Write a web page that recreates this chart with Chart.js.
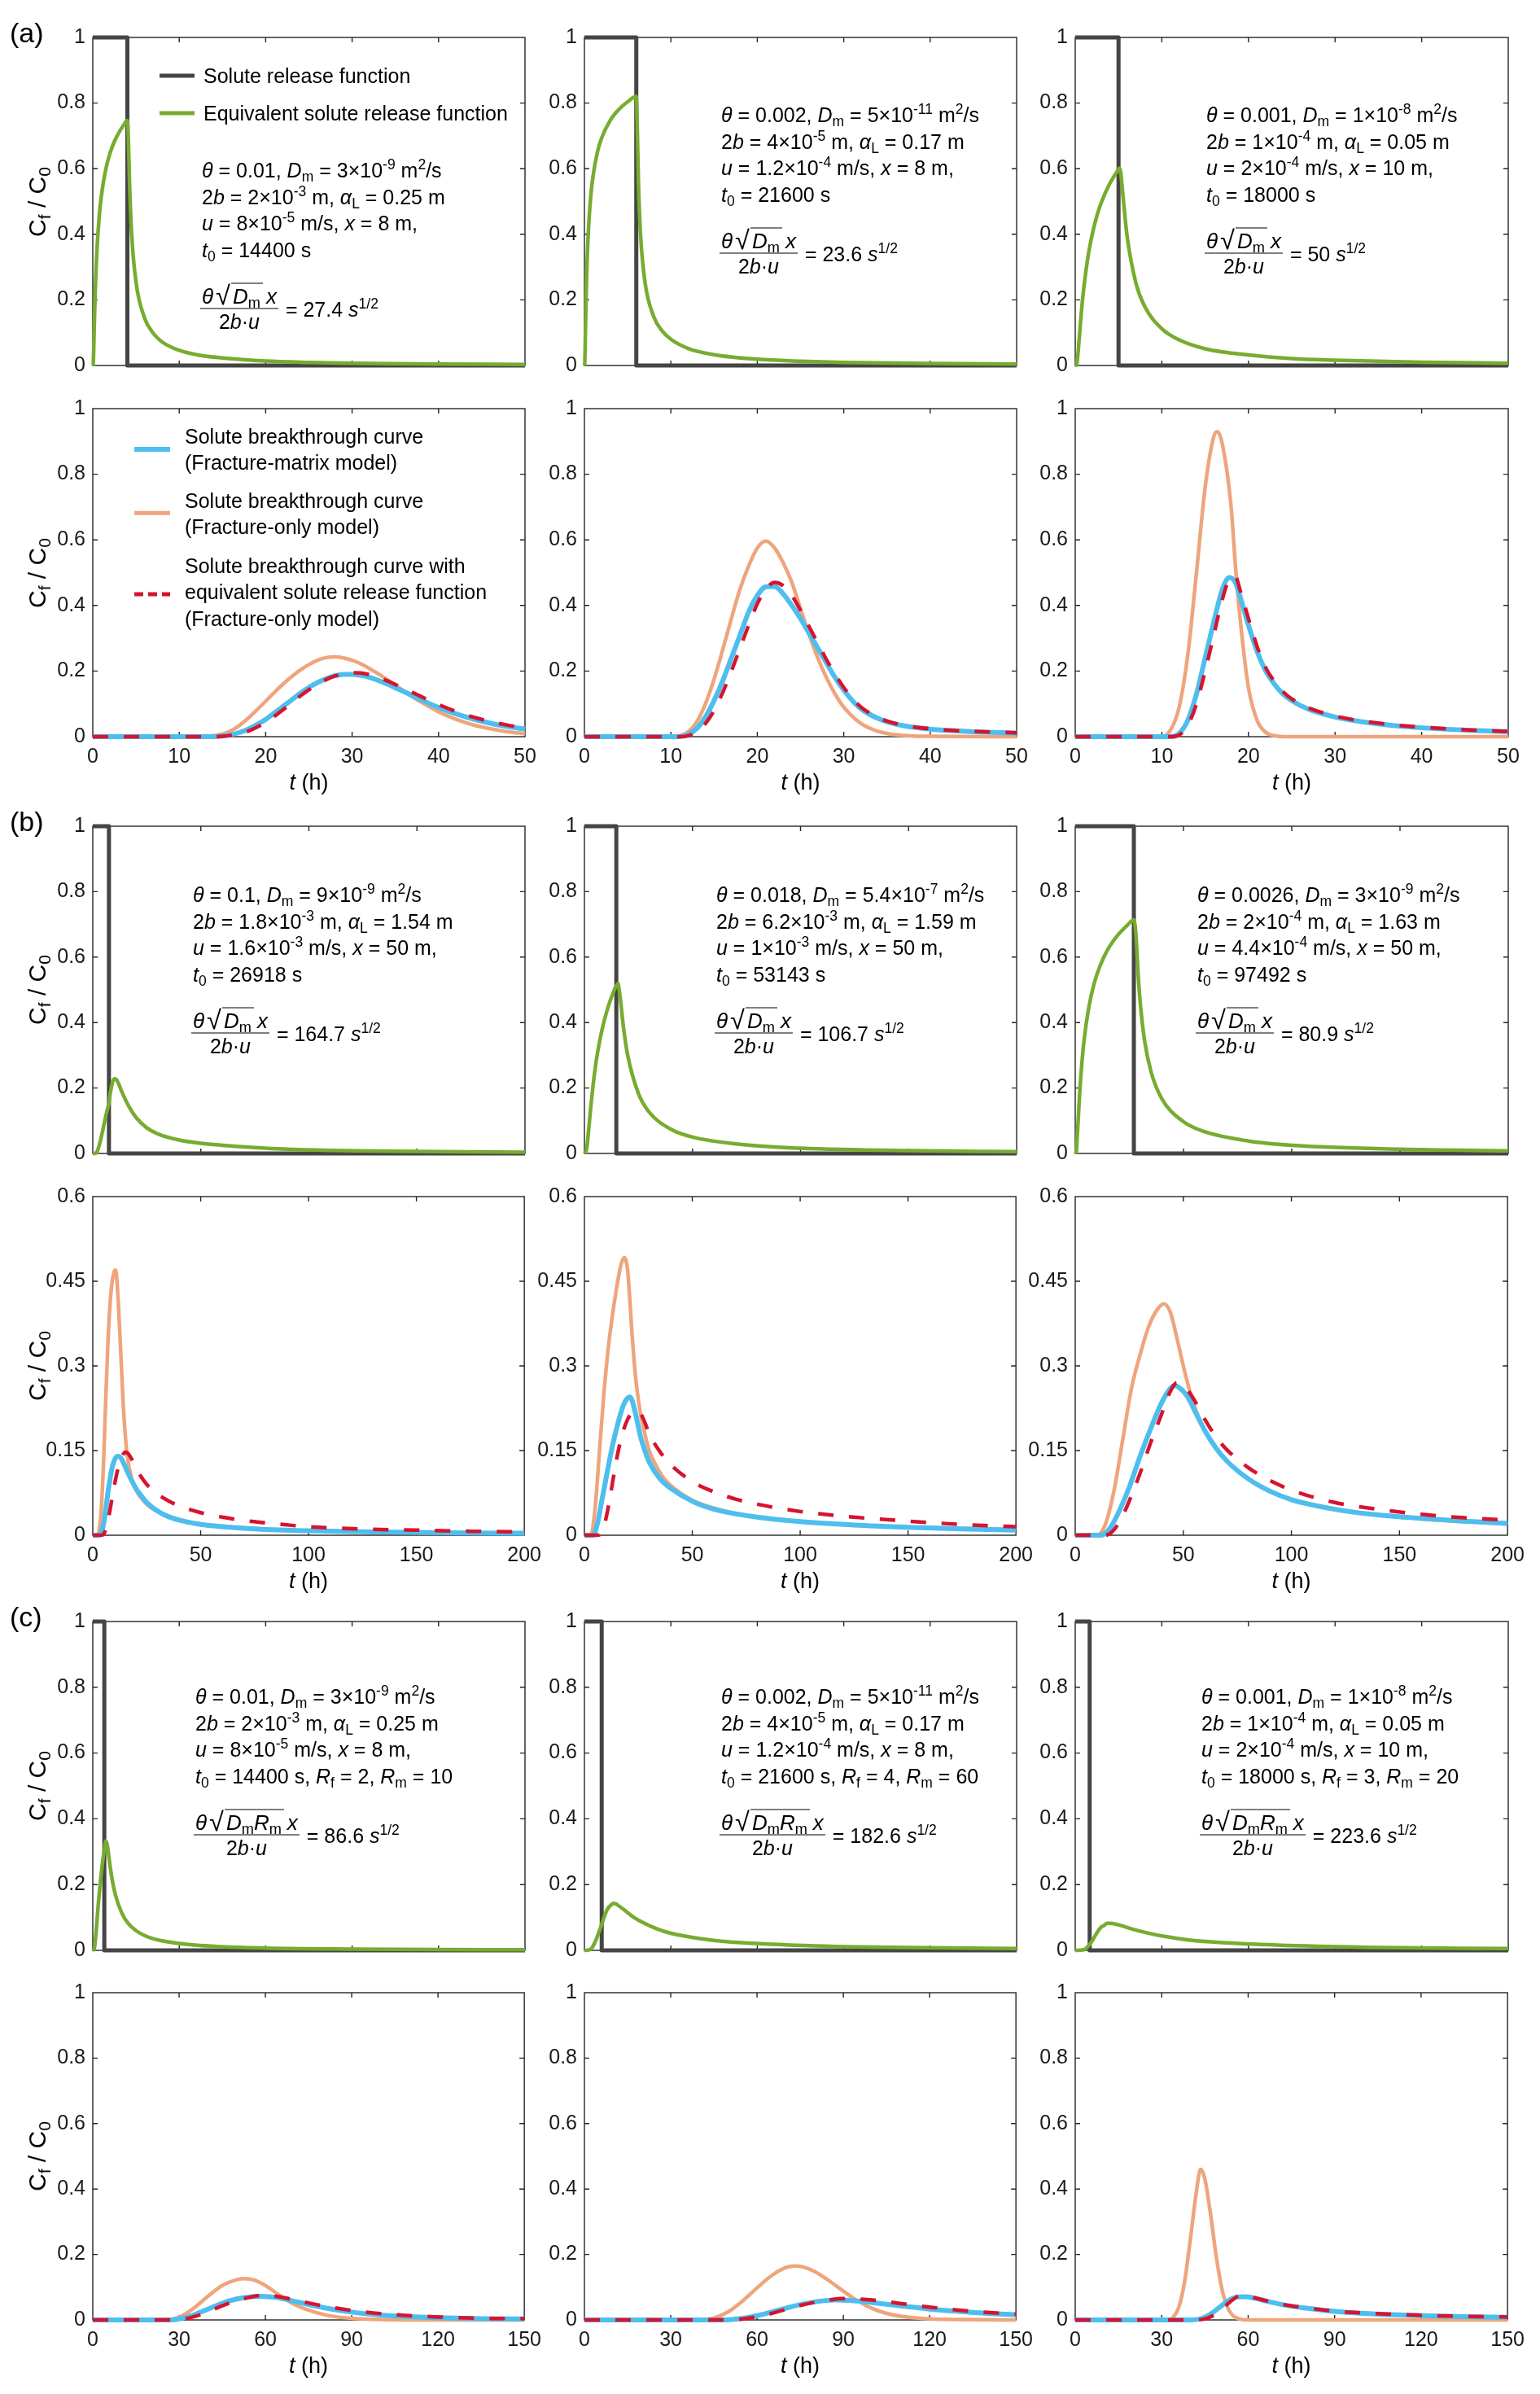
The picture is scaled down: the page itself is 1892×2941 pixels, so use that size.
<!DOCTYPE html>
<html><head><meta charset="utf-8">
<script src="https://cdn.jsdelivr.net/npm/chart.js@4.4.1/dist/chart.umd.min.js"></script>
<style>
html,body{margin:0;padding:0;background:#fff}
body{width:1892px;height:2941px;position:relative;overflow:hidden}
canvas{position:absolute}
.t{position:absolute;white-space:nowrap;font-family:'Liberation Sans',Arial,sans-serif;font-size:25px;color:#000;line-height:30px;transform:translateY(-50%)}
.t sub,.t sup{font-size:70%;line-height:0;position:relative;vertical-align:baseline}
.t sub{top:0.3em}
.t sup{top:-0.55em}
.fw{display:flex;align-items:center}
.fr{display:inline-flex;flex-direction:column;align-items:center;margin-right:9px}
.num{line-height:30px;height:30px;padding:0 2px;font-size:26px;white-space:nowrap}
.num .sq{font-size:1.25em;line-height:0;margin:0 1px 0 3px;position:relative;top:1px}
.num .xx{margin-left:4px}
.den{line-height:30px;height:30px;border-top:1.5px solid #000;align-self:stretch;text-align:center}
.ov{border-top:1.5px solid #000;padding:0 3px 0 2px}
.ln{position:absolute;transform:translateY(-50%)}
.ttl{position:absolute;white-space:nowrap;font-family:'Liberation Sans',Arial,sans-serif;font-size:27px;color:#000;line-height:34px}
.ttl sub{font-size:70%;line-height:0;position:relative;vertical-align:baseline;top:0.3em}
</style>
</head><body>
<script>
// ---------------- tick values / labels ----------------
const xTicks50 = [0,10,20,30,40,50];
const xTicks200 = [0,50,100,150,200];
const xTicks150 = [0,30,60,90,120,150];
const yTicks1 = [0,0.2,0.4,0.6,0.8,1];
const yLabels1 = ['0','0.2','0.4','0.6','0.8','1'];
const yTicks06 = [0,0.15,0.3,0.45,0.6];
const yLabels06 = ['0','0.15','0.3','0.45','0.6'];

// ---------------- (a) release functions ----------------
const relT_a1 = [0,4,4,50];        const rel_a1 = [1,1,0,0];
const relT_a2 = [0,6,6,50];        const rel_a2 = [1,1,0,0];
const relT_a3 = [0,5,5,50];        const rel_a3 = [1,1,0,0];
const eqT_a1 = [0,0.05,0.1,0.2,0.3,0.5,0.75,1,1.5,2,2.5,3,3.5,4,4.1,4.25,4.5,5,6,7,8,10,12,15,20,25,30,40,50];
const eq_a1  = [0,0.004,0.041,0.148,0.238,0.361,0.456,0.519,0.598,0.648,0.683,0.709,0.730,0.747,0.709,0.557,0.400,0.254,0.144,0.098,0.072,0.046,0.033,0.023,0.0135,0.0094,0.0069,0.0044,0.0030];
const eqT_a2 = [0,0.05,0.1,0.2,0.3,0.5,0.75,1,1.5,2,3,4,5,6,6.1,6.25,6.5,7,8,9,10,12,15,20,25,30,40,50];
const eq_a2  = [0,0.013,0.079,0.214,0.310,0.431,0.521,0.578,0.650,0.694,0.748,0.781,0.804,0.820,0.743,0.557,0.396,0.255,0.150,0.105,0.080,0.052,0.033,0.019,0.013,0.0095,0.006,0.0042];
const eqT_a3 = [0,0.1,0.2,0.3,0.5,0.75,1,1.5,2,2.5,3,4,5,5.1,5.25,5.5,6,7,8,10,12,15,20,25,30,40,50];
const eq_a3  = [0,0.0002,0.008,0.031,0.095,0.175,0.239,0.336,0.404,0.456,0.496,0.555,0.598,0.602,0.589,0.521,0.392,0.252,0.181,0.112,0.078,0.051,0.032,0.021,0.016,0.010,0.007];

// ---------------- (a) breakthrough curves ----------------
const orangeT_a1 = [0,12,14,15,16,17,18,19,20,21,22,23,24,25,26,27,28,29,30,31,32,33,34,35,36,38,40,42,44,46,48,50];
const orange_a1  = [0,0,0.003,0.008,0.018,0.035,0.057,0.082,0.108,0.135,0.16,0.183,0.203,0.22,0.233,0.241,0.243,0.240,0.233,0.222,0.208,0.192,0.175,0.157,0.139,0.105,0.076,0.053,0.036,0.024,0.015,0.009];
const btcT_a1    = [0,14,15,16,17,18,19,20,21,22,23,24,25,26,27,28,29,30,31,32,33,34,35,36,38,40,42,44,46,48,50];
const blue_a1    = [0,0,0.002,0.006,0.013,0.023,0.037,0.053,0.072,0.092,0.112,0.132,0.15,0.165,0.177,0.186,0.19,0.19,0.187,0.181,0.172,0.161,0.149,0.137,0.112,0.089,0.07,0.054,0.041,0.031,0.023];
const red_a1     = [0,0,0.001,0.004,0.009,0.017,0.029,0.044,0.062,0.082,0.103,0.124,0.143,0.16,0.174,0.185,0.192,0.195,0.194,0.189,0.181,0.171,0.159,0.147,0.122,0.098,0.077,0.06,0.046,0.035,0.026];

const orangeT_a2 = [0,10,11,12,13,14,15,16,17,18,19,20,21,22,23,24,25,26,27,28,29,30,31,32,33,34,35,36,38,40,50];
const orange_a2  = [0,0,0.003,0.015,0.045,0.1,0.175,0.265,0.36,0.45,0.52,0.575,0.596,0.575,0.53,0.47,0.39,0.31,0.24,0.18,0.13,0.09,0.062,0.04,0.026,0.016,0.01,0.006,0.002,0.001,0];
const btcT_a2    = [0,11,12,13,14,15,16,17,18,19,20,21,22,23,24,25,26,27,28,29,30,31,32,34,36,38,40,42,45,50];
const blue_a2    = [0,0,0.006,0.025,0.06,0.11,0.17,0.24,0.31,0.38,0.43,0.457,0.458,0.435,0.4,0.36,0.315,0.27,0.225,0.18,0.142,0.11,0.085,0.055,0.038,0.029,0.023,0.019,0.015,0.011];
const red_a2     = [0,0,0.003,0.015,0.04,0.08,0.135,0.2,0.27,0.34,0.405,0.45,0.47,0.46,0.43,0.385,0.335,0.285,0.235,0.19,0.15,0.117,0.09,0.058,0.04,0.03,0.024,0.02,0.016,0.012];

const orangeT_a3 = [0,10,11,12,13,14,15,16,16.4,17,18,18.5,19,20,21,22,23,24,50];
const orange_a3  = [0,0,0.02,0.09,0.25,0.5,0.76,0.915,0.93,0.89,0.7,0.52,0.37,0.15,0.05,0.013,0.003,0,0];
const btcT_a3    = [0,11,12,13,14,15,16,17,17.8,18.5,19,20,21,22,23,24,25,27,30,33,36,40,45,50];
const blue_a3    = [0,0,0.01,0.05,0.13,0.24,0.35,0.45,0.485,0.47,0.43,0.34,0.26,0.2,0.16,0.13,0.11,0.083,0.06,0.046,0.036,0.027,0.02,0.015];
const red_a3     = [0,0,0.005,0.035,0.1,0.2,0.31,0.42,0.48,0.488,0.45,0.36,0.275,0.21,0.168,0.137,0.115,0.087,0.063,0.048,0.038,0.029,0.021,0.016];

// ---------------- (b) release functions ----------------
const relT_b1 = [0,7.48,7.48,200];   const rel_b1 = [1,1,0,0];
const relT_b2 = [0,14.76,14.76,200]; const rel_b2 = [1,1,0,0];
const relT_b3 = [0,27.08,27.08,200]; const rel_b3 = [1,1,0,0];
const eqT_b1 = [0,1,2,3,4,5,6,7,7.5,8,9,10,11,12,14,17,20,25,30,40,50,60,75,90,110,130,160,200];
const eq_b1  = [0,0.0001,0.006,0.025,0.052,0.083,0.114,0.141,0.156,0.18,0.215,0.228,0.225,0.212,0.18,0.14,0.11,0.078,0.06,0.041,0.031,0.025,0.018,0.013,0.0095,0.0075,0.0055,0.004];
const eqT_b2 = [0,1,2,3,4,5,6,8,10,12,14.76,15.5,16,17,18,20,25,30,40,50,75,100,150,200];
const eq_b2  = [0,0.012,0.076,0.146,0.208,0.261,0.305,0.374,0.426,0.468,0.513,0.519,0.505,0.450,0.389,0.301,0.183,0.126,0.074,0.050,0.026,0.016,0.0084,0.0056];
const eqT_b3 = [0,0.5,1,2,3,4,6,8,10,13,16,20,24,27.08,28,29,30,32,35,40,50,60,80,100,150,200];
const eq_b3  = [0,0.007,0.058,0.179,0.271,0.341,0.436,0.500,0.547,0.597,0.634,0.670,0.697,0.714,0.672,0.554,0.462,0.346,0.250,0.167,0.097,0.066,0.038,0.025,0.013,0.008];

// ---------------- (b) breakthrough curves ----------------
const orangeT_b1 = [0,2,3,4,5,6,7,8,9,10,10.5,11,12,13,14,15,16,18,20,25,30,40,50,60,80,100,125,150,175,200];
const orange_b1  = [0,0,0.01,0.05,0.13,0.24,0.34,0.41,0.45,0.468,0.47,0.46,0.4,0.32,0.24,0.18,0.14,0.1,0.08,0.055,0.042,0.028,0.02,0.016,0.011,0.008,0.006,0.0045,0.0035,0.003];
const blueT_b1   = [0,3,4,5,6,7,8,9,10,11,12,13,14,16,18,20,22,25,30,35,40,50,60,80,100,125,150,175,200];
const blue_b1    = [0,0,0.005,0.02,0.045,0.075,0.1,0.12,0.133,0.139,0.14,0.137,0.13,0.113,0.097,0.083,0.072,0.058,0.043,0.033,0.027,0.019,0.015,0.01,0.008,0.006,0.005,0.004,0.0035];
const redT_b1    = [0,4,5,6,7,8,9,10,11,12,13,14,15,16,18,20,22,25,30,35,40,50,60,70,80,100,125,150,175,200];
const red_b1     = [0,0,0.002,0.01,0.025,0.045,0.067,0.088,0.107,0.123,0.135,0.143,0.147,0.146,0.135,0.12,0.106,0.09,0.073,0.061,0.052,0.04,0.032,0.026,0.022,0.015,0.011,0.009,0.007,0.006];

const orangeT_b2 = [0,3,5,7,9,11,13,15,17,18.5,20,21,22,23,24,26,28,30,33,36,40,50,60,75,100,125,150,175,200];
const orange_b2  = [0,0,0.05,0.15,0.25,0.33,0.39,0.44,0.48,0.492,0.47,0.42,0.36,0.31,0.27,0.215,0.18,0.15,0.125,0.105,0.088,0.062,0.048,0.035,0.024,0.018,0.014,0.012,0.01];
const blueT_b2   = [0,4,6,8,10,12,14,16,18,20,21,22,24,26,28,30,35,40,50,60,70,80,100,125,150,175,200];
const blue_b2    = [0,0,0.02,0.06,0.1,0.14,0.175,0.205,0.23,0.243,0.245,0.24,0.21,0.175,0.15,0.13,0.1,0.083,0.06,0.046,0.038,0.032,0.024,0.018,0.014,0.011,0.009];
const redT_b2    = [0,6,8,10,12,14,16,18,20,22,24,25,26,28,30,35,40,50,60,70,80,100,125,150,175,200];
const red_b2     = [0,0,0.005,0.03,0.07,0.115,0.155,0.185,0.205,0.217,0.221,0.22,0.216,0.2,0.18,0.148,0.125,0.095,0.077,0.064,0.055,0.042,0.032,0.025,0.019,0.015];

const orangeT_b3 = [0,10,14,18,22,26,30,34,38,41,44,47,50,53,56,60,65,70,80,90,100,120,140,160,180,200];
const orange_b3  = [0,0,0.02,0.08,0.17,0.26,0.32,0.37,0.4,0.41,0.395,0.35,0.3,0.255,0.22,0.185,0.155,0.132,0.1,0.079,0.064,0.047,0.036,0.029,0.024,0.02];
const blueT_b3   = [0,12,16,20,25,30,35,40,44,46,48,52,56,60,65,70,80,90,100,120,140,160,180,200];
const blue_b3    = [0,0,0.012,0.04,0.085,0.14,0.19,0.235,0.26,0.265,0.262,0.245,0.215,0.185,0.155,0.132,0.1,0.078,0.063,0.046,0.036,0.03,0.025,0.021];
const redT_b3    = [0,14,18,22,26,30,35,40,44,47,50,55,60,65,70,80,90,100,120,140,160,180,200];
const red_b3     = [0,0,0.01,0.035,0.07,0.11,0.165,0.215,0.255,0.27,0.266,0.24,0.205,0.175,0.152,0.12,0.097,0.08,0.058,0.046,0.037,0.031,0.027];

// ---------------- (c) release functions ----------------
const relT_c1 = [0,4,4,150]; const rel_c1 = [1,1,0,0];
const relT_c2 = [0,6,6,150]; const rel_c2 = [1,1,0,0];
const relT_c3 = [0,5,5,150]; const rel_c3 = [1,1,0,0];
const eqT_c1 = [0,0.5,1,2,3,4,4.5,5,6,7,8,10,12,15,20,30,45,60,90,120,150];
const eq_c1  = [0,0.004,0.041,0.149,0.239,0.307,0.332,0.321,0.256,0.202,0.164,0.115,0.085,0.060,0.038,0.021,0.011,0.007,0.004,0.0024,0.0019];
const eqT_c2 = [0,2,3,4,5,6,7,8,9,10,11,12,14,17,20,25,30,40,50,70,100,150];
const eq_c2  = [0,0.002,0.013,0.031,0.055,0.079,0.105,0.126,0.136,0.143,0.141,0.135,0.122,0.101,0.086,0.066,0.052,0.036,0.026,0.017,0.010,0.0055];
const eqT_c3 = [0,3,4,5,6,7,8,9,10,11,12,14,16,20,25,30,40,50,70,100,150];
const eq_c3  = [0,0.002,0.008,0.018,0.031,0.046,0.060,0.071,0.076,0.082,0.082,0.080,0.075,0.064,0.053,0.044,0.031,0.024,0.016,0.0095,0.0053];

// ---------------- (c) breakthrough curves ----------------
const orangeT_c1 = [0,25,30,35,40,45,50,53,56,60,65,70,75,80,85,90,100,110,150];
const orange_c1  = [0,0,0.008,0.035,0.072,0.105,0.123,0.126,0.122,0.105,0.075,0.048,0.03,0.017,0.009,0.005,0.001,0,0];
const blueT_c1   = [0,27,30,35,40,45,50,55,58,62,66,70,75,80,90,100,110,120,135,150];
const blue_c1    = [0,0,0.003,0.015,0.033,0.051,0.064,0.071,0.072,0.07,0.065,0.057,0.047,0.038,0.024,0.015,0.01,0.007,0.004,0.003];
const redT_c1    = [0,28,32,36,40,45,50,55,59,63,67,70,75,80,90,100,110,120,135,150];
const red_c1     = [0,0,0.003,0.012,0.025,0.043,0.059,0.07,0.075,0.073,0.067,0.061,0.052,0.043,0.029,0.019,0.013,0.009,0.005,0.004];

const orangeT_c2 = [0,40,45,50,55,60,65,70,73,76,80,85,90,95,100,105,110,115,120,130,150];
const orange_c2  = [0,0,0.006,0.025,0.058,0.098,0.135,0.16,0.165,0.162,0.148,0.12,0.088,0.058,0.035,0.02,0.011,0.006,0.003,0.001,0];
const blueT_c2   = [0,48,55,60,65,70,75,80,85,88,92,96,100,110,120,130,140,150];
const blue_c2    = [0,0,0.005,0.013,0.024,0.036,0.047,0.055,0.06,0.061,0.06,0.057,0.053,0.043,0.033,0.026,0.02,0.016];
const redT_c2    = [0,50,56,62,68,74,80,85,90,95,100,110,120,130,140,150];
const red_c2     = [0,0,0.004,0.013,0.027,0.042,0.054,0.061,0.065,0.064,0.061,0.05,0.039,0.03,0.023,0.018];

const orangeT_c3 = [0,32,34,36,38,40,42,43.5,45,47,49,51,53,55,57,60,150];
const orange_c3  = [0,0,0.008,0.04,0.12,0.25,0.39,0.46,0.43,0.32,0.19,0.09,0.035,0.011,0.003,0,0];
const blueT_c3   = [0,40,44,47,50,53,56,59,62,66,70,75,80,90,100,110,120,135,150];
const blue_c3    = [0,0,0.005,0.018,0.038,0.058,0.07,0.071,0.067,0.058,0.05,0.042,0.036,0.026,0.02,0.016,0.013,0.01,0.008];
const redT_c3    = [0,42,46,49,52,55,57,60,63,67,71,75,80,90,100,110,120,135,150];
const red_c3     = [0,0,0.006,0.02,0.042,0.064,0.074,0.072,0.066,0.057,0.049,0.043,0.037,0.027,0.021,0.017,0.014,0.011,0.009];

// ---------------- annotation texts ----------------
const paramsA = [
 ['$θ$ = 0.01, $D$_{m} = 3×10^{-9} m^{2}/s','2$b$ = 2×10^{-3} m, $α$_{L} = 0.25 m','$u$ = 8×10^{-5} m/s, $x$ = 8 m,','$t$_{0} = 14400 s'],
 ['$θ$ = 0.002, $D$_{m} = 5×10^{-11} m^{2}/s','2$b$ = 4×10^{-5} m, $α$_{L} = 0.17 m','$u$ = 1.2×10^{-4} m/s, $x$ = 8 m,','$t$_{0} = 21600 s'],
 ['$θ$ = 0.001, $D$_{m} = 1×10^{-8} m^{2}/s','2$b$ = 1×10^{-4} m, $α$_{L} = 0.05 m','$u$ = 2×10^{-4} m/s, $x$ = 10 m,','$t$_{0} = 18000 s']
];
const paramsB = [
 ['$θ$ = 0.1, $D$_{m} = 9×10^{-9} m^{2}/s','2$b$ = 1.8×10^{-3} m, $α$_{L} = 1.54 m','$u$ = 1.6×10^{-3} m/s, $x$ = 50 m,','$t$_{0} = 26918 s'],
 ['$θ$ = 0.018, $D$_{m} = 5.4×10^{-7} m^{2}/s','2$b$ = 6.2×10^{-3} m, $α$_{L} = 1.59 m','$u$ = 1×10^{-3} m/s, $x$ = 50 m,','$t$_{0} = 53143 s'],
 ['$θ$ = 0.0026, $D$_{m} = 3×10^{-9} m^{2}/s','2$b$ = 2×10^{-4} m, $α$_{L} = 1.63 m','$u$ = 4.4×10^{-4} m/s, $x$ = 50 m,','$t$_{0} = 97492 s']
];
const paramsC = [
 ['$θ$ = 0.01, $D$_{m} = 3×10^{-9} m^{2}/s','2$b$ = 2×10^{-3} m, $α$_{L} = 0.25 m','$u$ = 8×10^{-5} m/s, $x$ = 8 m,','$t$_{0} = 14400 s, $R$_{f} = 2, $R$_{m} = 10'],
 ['$θ$ = 0.002, $D$_{m} = 5×10^{-11} m^{2}/s','2$b$ = 4×10^{-5} m, $α$_{L} = 0.17 m','$u$ = 1.2×10^{-4} m/s, $x$ = 8 m,','$t$_{0} = 21600 s, $R$_{f} = 4, $R$_{m} = 60'],
 ['$θ$ = 0.001, $D$_{m} = 1×10^{-8} m^{2}/s','2$b$ = 1×10^{-4} m, $α$_{L} = 0.05 m','$u$ = 2×10^{-4} m/s, $x$ = 10 m,','$t$_{0} = 18000 s, $R$_{f} = 3, $R$_{m} = 20']
];
const groupValuesA = ['27.4','23.6','50'];
const groupValuesB = ['164.7','106.7','80.9'];
const groupValuesC = ['86.6','182.6','223.6'];
const legendTop = ['Solute release function','Equivalent solute release function'];
const legendBottom = [['Solute breakthrough curve','(Fracture-matrix model)'],['Solute breakthrough curve','(Fracture-only model)'],['Solute breakthrough curve with','equivalent solute release function','(Fracture-only model)']];
const panelLetters = ['(a)','(b)','(c)'];

// ---------------- styling / layout ----------------
const FONT = "'Liberation Sans', Arial, sans-serif";
const C = {black:'#454545', green:'#77AC30', blue:'#4DBEEE', orange:'#EEA57C', red:'#D6142F', axis:'#262626'};
const COLS = [[114,645],[718,1249],[1321,1853]];
const ROWS = [[42,449],[498,905],[1011,1417],[1466,1886],[1988,2396],[2444,2850]];
const PADL = 100, PADT = 20, PADR = 30, PADB = 80;

function xy(ts, ys){ return ts.map((t,i)=>({x:t, y:ys[i]})); }
function mk(s){ return s.replace(/\$([^$]+)\$/g,'<i>$1</i>').replace(/_\{([^}]*)\}/g,'<sub>$1</sub>').replace(/\^\{([^}]*)\}/g,'<sup>$1</sup>'); }

const boxPlugin = {
  id:'box',
  beforeDatasetsDraw(chart){
    const {ctx, chartArea:a, scales:{x,y}} = chart;
    ctx.save();
    ctx.strokeStyle = C.axis; ctx.lineWidth = 1.4;
    const tl = 6;
    ctx.beginPath();
    x.ticks.forEach(t=>{ const p = x.getPixelForValue(t.value);
      if (p > a.left+2 && p < a.right-2){ ctx.moveTo(p,a.bottom); ctx.lineTo(p,a.bottom-tl); ctx.moveTo(p,a.top); ctx.lineTo(p,a.top+tl); } });
    y.ticks.forEach(t=>{ const p = y.getPixelForValue(t.value);
      if (p > a.top+2 && p < a.bottom-2){ ctx.moveTo(a.left,p); ctx.lineTo(a.left+tl,p); ctx.moveTo(a.right,p); ctx.lineTo(a.right-tl,p); } });
    ctx.stroke();
    ctx.strokeRect(a.left, a.top, a.right-a.left, a.bottom-a.top);
    ctx.restore();
  }
};

function makeChart(col,row,xt,yt,yl,showX,datasets){
  const [L,R] = COLS[col], [T,B] = ROWS[row];
  const cv = document.createElement('canvas');
  cv.width = R-L+PADL+PADR; cv.height = B-T+PADT+PADB;
  const cl = L-PADL, ct = T-PADT;
  cv.style.left = cl+'px'; cv.style.top = ct+'px';
  document.body.appendChild(cv);
  const xl = xt.map(String);
  const chart = new Chart(cv,{
    type:'line',
    data:{datasets},
    options:{
      responsive:false, animation:false, devicePixelRatio:1,
      layout:{padding:{left:0,top:PADT,right:PADR,bottom:0}},
      plugins:{legend:{display:false}, tooltip:{enabled:false}},
      elements:{point:{radius:0}, line:{borderCapStyle:'butt', borderJoinStyle:'round'}},
      scales:{
        x:{type:'linear', min:xt[0], max:xt[xt.length-1],
           grid:{display:false, drawTicks:false}, border:{display:false},
           afterBuildTicks:s=>{ s.ticks = xt.map(v=>({value:v})); },
           afterFit:s=>{ s.height = PADB; },
           ticks:{display:showX, autoSkip:false, maxRotation:0, padding:10, color:'#1a1a1a', font:{family:FONT,size:25}, callback:(v,i)=>xl[i]}},
        y:{type:'linear', min:yt[0], max:yt[yt.length-1],
           grid:{display:false, drawTicks:false}, border:{display:false},
           afterBuildTicks:s=>{ s.ticks = yt.map(v=>({value:v})); },
           afterFit:s=>{ s.width = PADL; },
           ticks:{autoSkip:false, padding:9, color:'#1a1a1a', font:{family:FONT,size:25}, callback:(v,i)=>yl[i]}}
      }
    },
    plugins:[boxPlugin]
  });
  const a = chart.chartArea;
  return {chart, L:cl+a.left, T:ct+a.top, R:cl+a.right, B:ct+a.bottom};
}

function relSets(relT,rel,eqT,eq){
  return [
    {data:xy(eqT,eq), borderColor:C.green, borderWidth:4.5, cubicInterpolationMode:'monotone', clip:6},
    {data:xy(relT,rel), borderColor:C.black, borderWidth:5, tension:0, clip:6}
  ];
}
function btcSets(rT,r,bT,b,oT,o){
  return [
    {data:xy(rT,r), borderColor:C.red, borderWidth:4.5, borderDash:[19,19], cubicInterpolationMode:'monotone', clip:6},
    {data:xy(bT,b), borderColor:C.blue, borderWidth:6, cubicInterpolationMode:'monotone', clip:6},
    {data:xy(oT,o), borderColor:C.orange, borderWidth:4.5, cubicInterpolationMode:'monotone', clip:6}
  ];
}

function addDiv(cls, html, left, top, style){
  const d = document.createElement('div'); d.className = cls; d.innerHTML = html;
  d.style.left = left+'px'; d.style.top = top+'px';
  if (style) Object.assign(d.style, style);
  document.body.appendChild(d); return d;
}
function addLine(left, y, w, h, bg){
  return addDiv('ln','',left,y,{width:w+'px',height:h+'px',background:bg});
}
function paramBlock(p, lines, value, dx, dy, radicand){
  const x = p.L+dx, y1 = p.T+dy;
  lines.forEach((s,i)=>addDiv('t', mk(s), x, y1+i*32.5));
  const frac = '<div class="fw"><span class="fr"><span class="num">'+mk('$θ$')+'<span class="sq">√</span><span class="ov">'+mk(radicand)+'</span><span class="xx">'+mk('$x$')+'</span></span><span class="den">'+mk('2$b$·$u$')+'</span></span><span>= '+value+' '+mk('$s$^{1/2}')+'</span></div>';
  addDiv('t', frac, x-2, y1+170);
}
function yTitle(p){
  addDiv('ttl', 'C<sub>f</sub> / C<sub>0</sub>', 46, (p.T+p.B)/2, {fontSize:'30px', transform:'translate(-50%,-50%) rotate(-90deg)'});
}
function xTitle(p){
  addDiv('ttl', '<i>t</i> (h)', (p.L+p.R)/2, p.B+56, {transform:'translate(-50%,-50%)'});
}

// ---------------- build charts ----------------
const pA1 = makeChart(0,0,xTicks50,yTicks1,yLabels1,false,relSets(relT_a1,rel_a1,eqT_a1,eq_a1));
const pA2 = makeChart(1,0,xTicks50,yTicks1,yLabels1,false,relSets(relT_a2,rel_a2,eqT_a2,eq_a2));
const pA3 = makeChart(2,0,xTicks50,yTicks1,yLabels1,false,relSets(relT_a3,rel_a3,eqT_a3,eq_a3));
const qA1 = makeChart(0,1,xTicks50,yTicks1,yLabels1,true,btcSets(btcT_a1,red_a1,btcT_a1,blue_a1,orangeT_a1,orange_a1));
const qA2 = makeChart(1,1,xTicks50,yTicks1,yLabels1,true,btcSets(btcT_a2,red_a2,btcT_a2,blue_a2,orangeT_a2,orange_a2));
const qA3 = makeChart(2,1,xTicks50,yTicks1,yLabels1,true,btcSets(btcT_a3,red_a3,btcT_a3,blue_a3,orangeT_a3,orange_a3));

const pB1 = makeChart(0,2,xTicks200,yTicks1,yLabels1,false,relSets(relT_b1,rel_b1,eqT_b1,eq_b1));
const pB2 = makeChart(1,2,xTicks200,yTicks1,yLabels1,false,relSets(relT_b2,rel_b2,eqT_b2,eq_b2));
const pB3 = makeChart(2,2,xTicks200,yTicks1,yLabels1,false,relSets(relT_b3,rel_b3,eqT_b3,eq_b3));
const qB1 = makeChart(0,3,xTicks200,yTicks06,yLabels06,true,btcSets(redT_b1,red_b1,blueT_b1,blue_b1,orangeT_b1,orange_b1));
const qB2 = makeChart(1,3,xTicks200,yTicks06,yLabels06,true,btcSets(redT_b2,red_b2,blueT_b2,blue_b2,orangeT_b2,orange_b2));
const qB3 = makeChart(2,3,xTicks200,yTicks06,yLabels06,true,btcSets(redT_b3,red_b3,blueT_b3,blue_b3,orangeT_b3,orange_b3));

const pC1 = makeChart(0,4,xTicks150,yTicks1,yLabels1,false,relSets(relT_c1,rel_c1,eqT_c1,eq_c1));
const pC2 = makeChart(1,4,xTicks150,yTicks1,yLabels1,false,relSets(relT_c2,rel_c2,eqT_c2,eq_c2));
const pC3 = makeChart(2,4,xTicks150,yTicks1,yLabels1,false,relSets(relT_c3,rel_c3,eqT_c3,eq_c3));
const qC1 = makeChart(0,5,xTicks150,yTicks1,yLabels1,true,btcSets(redT_c1,red_c1,blueT_c1,blue_c1,orangeT_c1,orange_c1));
const qC2 = makeChart(1,5,xTicks150,yTicks1,yLabels1,true,btcSets(redT_c2,red_c2,blueT_c2,blue_c2,orangeT_c2,orange_c2));
const qC3 = makeChart(2,5,xTicks150,yTicks1,yLabels1,true,btcSets(redT_c3,red_c3,blueT_c3,blue_c3,orangeT_c3,orange_c3));

// ---------------- overlays ----------------
[pA1,pB1,pC1].forEach((p,i)=>addDiv('ttl', panelLetters[i], 12, p.T-6, {fontSize:'34px', transform:'translateY(-50%)'}));
[pA1,qA1,pB1,qB1,pC1,qC1].forEach(yTitle);
[qA1,qA2,qA3,qB1,qB2,qB3,qC1,qC2,qC3].forEach(xTitle);

// legend in (a) top-left
addLine(pA1.L+82, pA1.T+47, 43, 5, C.black);
addDiv('t', legendTop[0], pA1.L+136, pA1.T+47);
addLine(pA1.L+82, pA1.T+93, 43, 5, C.green);
addDiv('t', legendTop[1], pA1.L+136, pA1.T+93);

// legend in (a) bottom-left
addLine(qA1.L+51, qA1.T+50, 44, 6, C.blue);
addDiv('t', legendBottom[0][0], qA1.L+113, qA1.T+34);
addDiv('t', legendBottom[0][1], qA1.L+113, qA1.T+66);
addLine(qA1.L+51, qA1.T+128, 44, 4.5, C.orange);
addDiv('t', legendBottom[1][0], qA1.L+113, qA1.T+113);
addDiv('t', legendBottom[1][1], qA1.L+113, qA1.T+145);
addLine(qA1.L+51, qA1.T+228, 44, 5, 'repeating-linear-gradient(90deg,'+C.red+' 0 11px, transparent 11px 17px)');
addDiv('t', legendBottom[2][0], qA1.L+113, qA1.T+193);
addDiv('t', legendBottom[2][1], qA1.L+113, qA1.T+225);
addDiv('t', legendBottom[2][2], qA1.L+113, qA1.T+258);

// parameter blocks
paramBlock(pA1, paramsA[0], groupValuesA[0], 134, 163, '$D$_{m}');
paramBlock(pA2, paramsA[1], groupValuesA[1], 168, 95, '$D$_{m}');
paramBlock(pA3, paramsA[2], groupValuesA[2], 161, 95, '$D$_{m}');
paramBlock(pB1, paramsB[0], groupValuesB[0], 123, 84, '$D$_{m}');
paramBlock(pB2, paramsB[1], groupValuesB[1], 162, 84, '$D$_{m}');
paramBlock(pB3, paramsB[2], groupValuesB[2], 150, 84, '$D$_{m}');
paramBlock(pC1, paramsC[0], groupValuesC[0], 126, 92, '$D$_{m}$R$_{m}');
paramBlock(pC2, paramsC[1], groupValuesC[1], 168, 92, '$D$_{m}$R$_{m}');
paramBlock(pC3, paramsC[2], groupValuesC[2], 155, 92, '$D$_{m}$R$_{m}');
</script>
</body></html>
